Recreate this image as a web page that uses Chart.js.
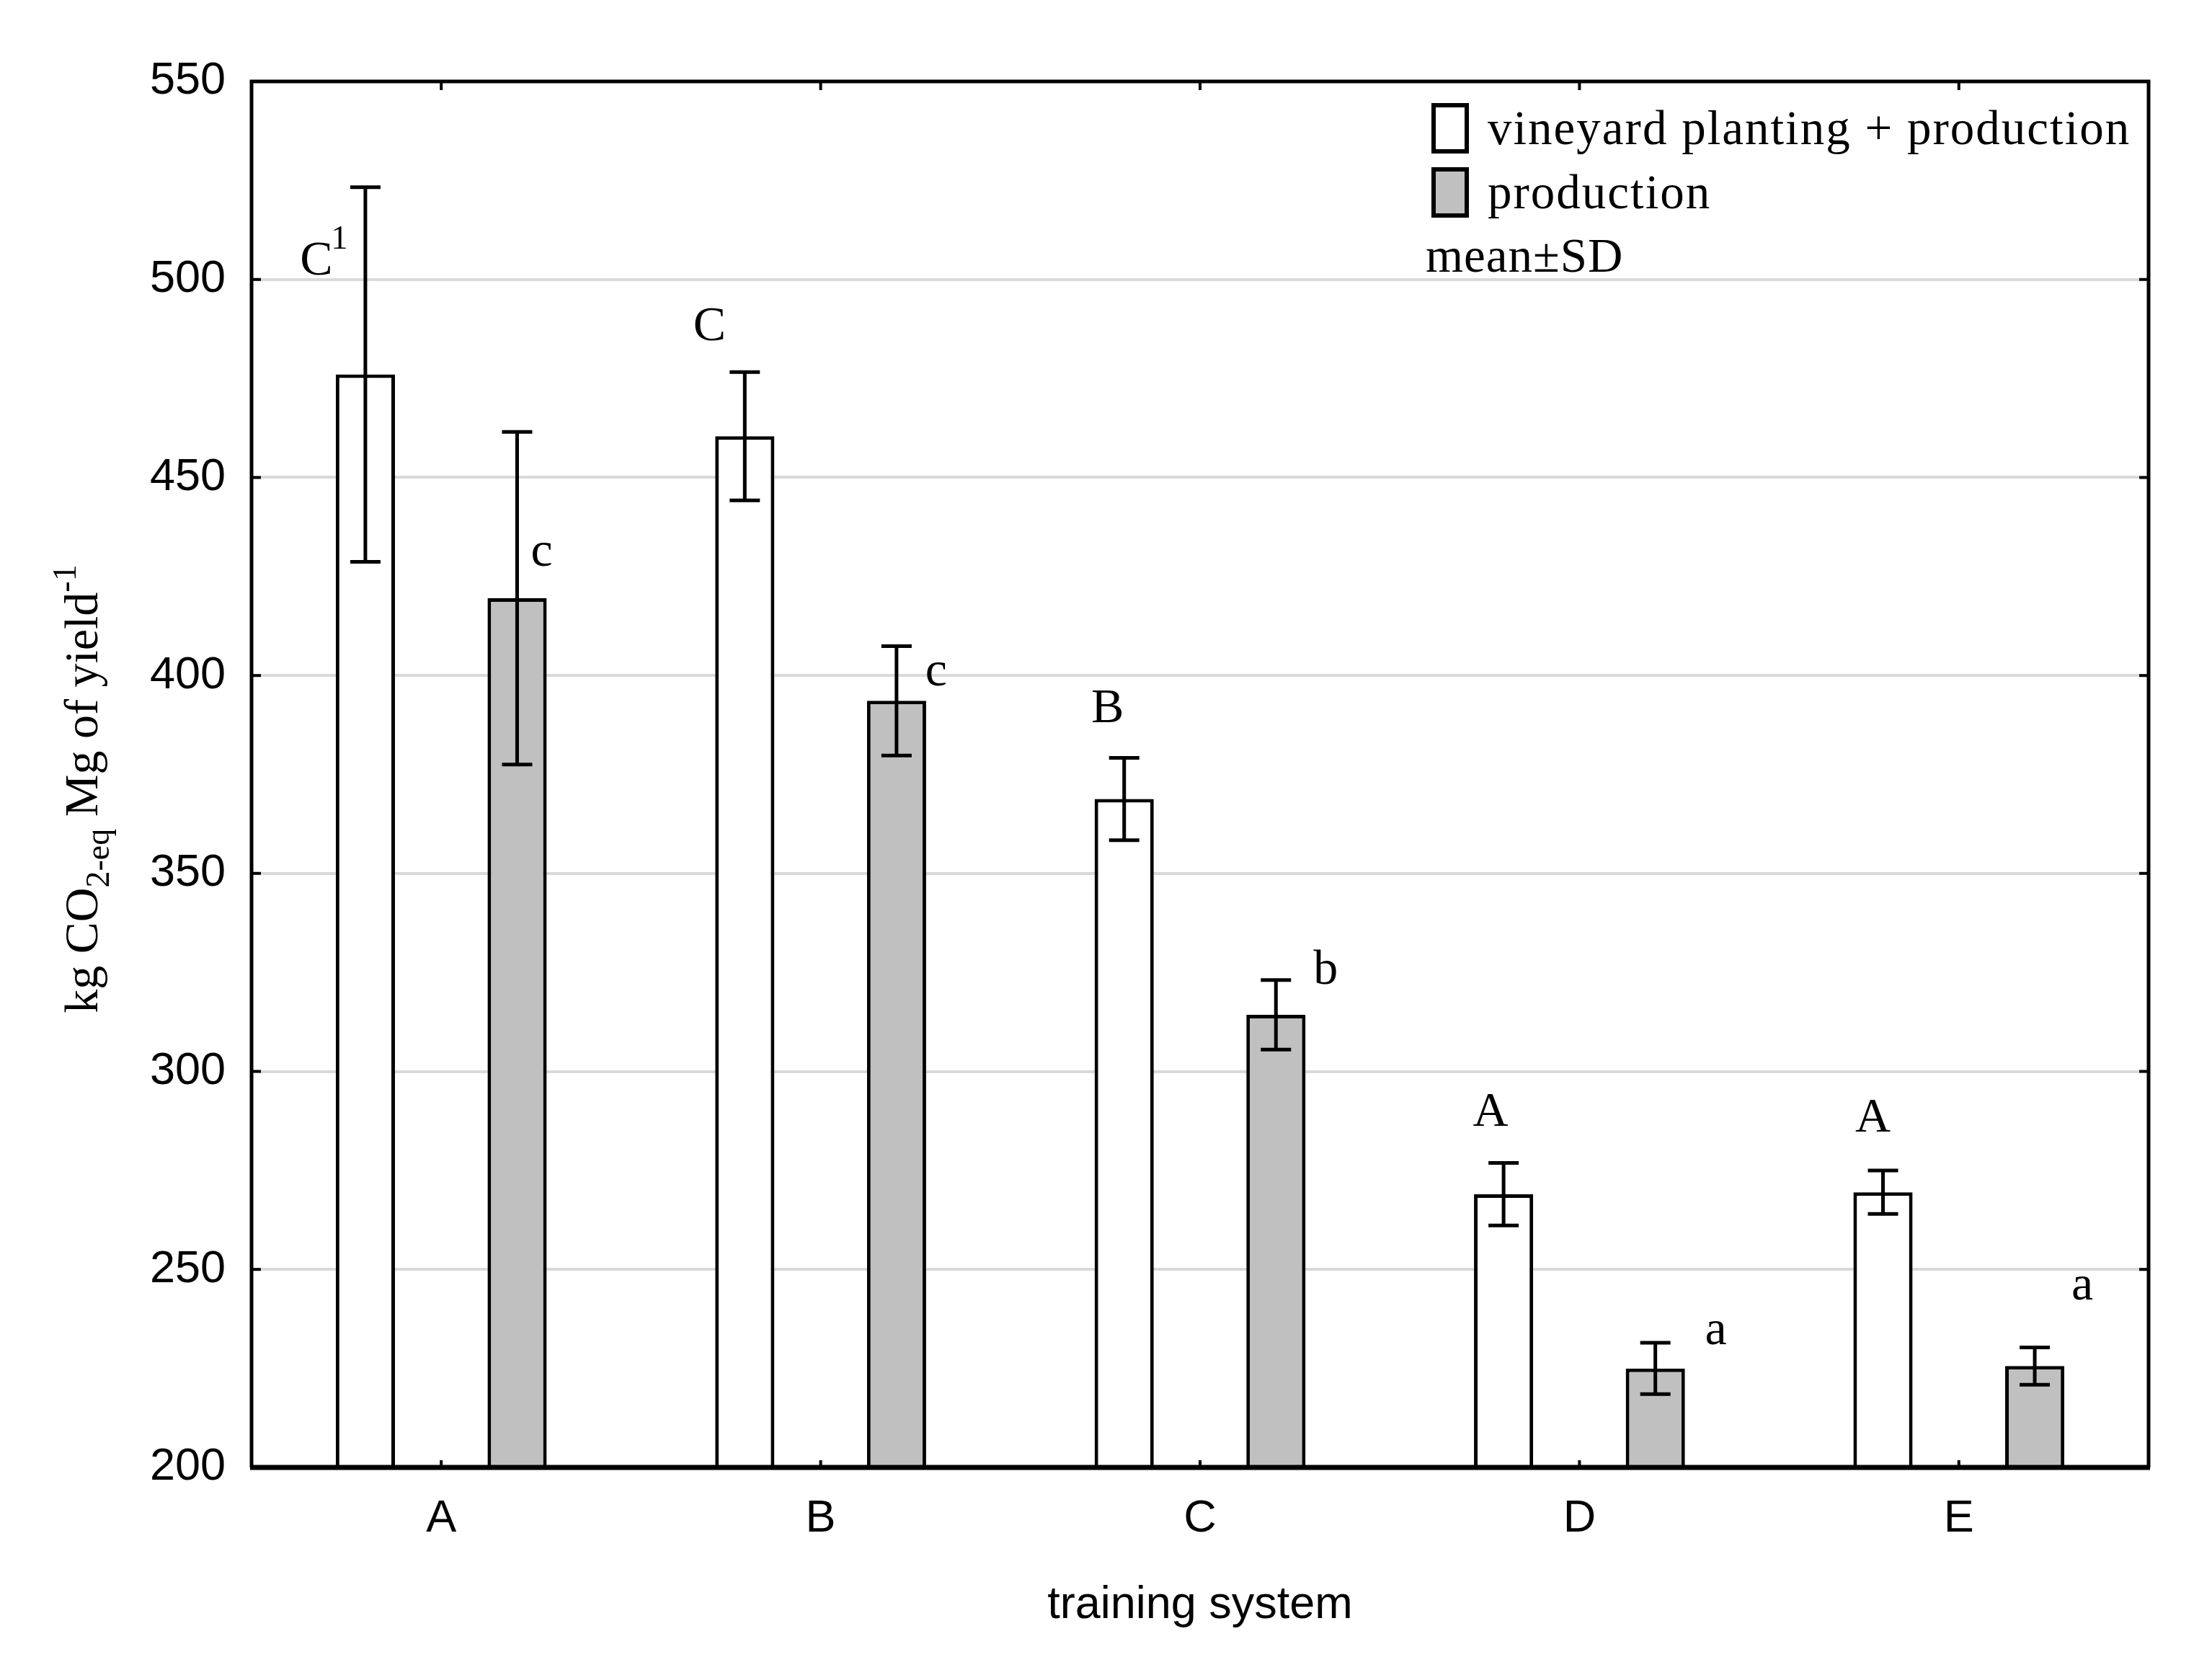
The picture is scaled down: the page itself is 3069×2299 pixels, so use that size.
<!DOCTYPE html>
<html><head><meta charset="utf-8">
<script src="https://cdn.jsdelivr.net/npm/chart.js@4"></script>
<style>html,body{margin:0;padding:0;background:#fff}canvas{display:block}</style>
</head><body>
<canvas id="c" width="3069" height="2299"></canvas>
<script>
// ---- data ----
const categories = ['A', 'B', 'C', 'D', 'E'];
const seriesLabels = ['vineyard planting + production', 'production'];
const plantingMean = [476, 460.4, 368.8, 269, 269.5];
const plantingSD = [47.3, 16.2, 10.4, 7.9, 5.5];
const productionMean = [419.5, 393.6, 314.3, 225, 225.6];
const productionSD = [42, 13.8, 8.8, 6.5, 4.7];
const plantingLetters = ['C', 'C', 'B', 'A', 'A'];
const plantingLetterSup = ['1', '', '', '', ''];
const productionLetters = ['c', 'c', 'b', 'a', 'a'];
const yTicks = [200, 250, 300, 350, 400, 450, 500, 550];
const xTitle = 'training system';
const statNote = 'mean\u00b1SD';

// ---- style / placement ----
const SERIF = '"Liberation Serif", "DejaVu Serif", serif';
const SANS = '"Liberation Sans", Arial, sans-serif';
const fills = ['#ffffff', '#c0c0c0'];
// letter placement: horizontal offset (px) from bar centre, vertical position in axis units
const letterPlace = [
  { dx: [-68, -49, -23, -18, -14], y: [504.5, 487.9, 391.4, 289.5, 288] },
  { dx: [34, 55, 69, 84, 66], y: [431, 400.7, 325.4, 234.4, 245.7] }
];

const decor = {
  id: 'decor',
  afterDatasetsDraw(chart) {
    const { ctx, chartArea: a, scales: { x, y } } = chart;
    ctx.save();
    ctx.strokeStyle = '#000';
    ctx.lineCap = 'butt';
    // error bars
    const sets = [[plantingMean, plantingSD], [productionMean, productionSD]];
    sets.forEach(([m, s], di) => {
      chart.getDatasetMeta(di).data.forEach((bar, i) => {
        const px = bar.x;
        const yt = y.getPixelForValue(m[i] + s[i]);
        const yb = y.getPixelForValue(m[i] - s[i]);
        ctx.lineWidth = 5;
        ctx.beginPath();
        ctx.moveTo(px, yt); ctx.lineTo(px, yb);
        ctx.moveTo(px - 21, yt); ctx.lineTo(px + 21, yt);
        ctx.moveTo(px - 21, yb); ctx.lineTo(px + 21, yb);
        ctx.stroke();
      });
    });
    // frame
    ctx.lineWidth = 5;
    ctx.beginPath();
    ctx.moveTo(a.left, a.bottom); ctx.lineTo(a.left, a.top); ctx.lineTo(a.right, a.top); ctx.lineTo(a.right, a.bottom);
    ctx.stroke();
    ctx.lineWidth = 7;
    ctx.beginPath();
    ctx.moveTo(a.left - 2, a.bottom); ctx.lineTo(a.right + 2, a.bottom);
    ctx.stroke();
    // inward ticks
    ctx.lineWidth = 4;
    ctx.beginPath();
    y.ticks.forEach(t => {
      const py = y.getPixelForValue(t.value);
      ctx.moveTo(a.left, py); ctx.lineTo(a.left + 13, py);
      ctx.moveTo(a.right, py); ctx.lineTo(a.right - 13, py);
    });
    x.ticks.forEach((t, i) => {
      const px = x.getPixelForTick(i);
      ctx.moveTo(px, a.bottom); ctx.lineTo(px, a.bottom - 10);
      ctx.moveTo(px, a.top); ctx.lineTo(px, a.top + 12);
    });
    ctx.stroke();
    // significance letters
    ctx.fillStyle = '#000';
    ctx.textBaseline = 'middle';
    const letters = [[plantingLetters, plantingLetterSup], [productionLetters, null]];
    letters.forEach(([L, S], di) => {
      chart.getDatasetMeta(di).data.forEach((bar, i) => {
        const cx = bar.x + letterPlace[di].dx[i];
        const cy = y.getPixelForValue(letterPlace[di].y[i]);
        ctx.font = '68px ' + SERIF;
        ctx.textAlign = 'center';
        ctx.fillText(L[i], cx, cy);
        if (S && S[i]) {
          const w = ctx.measureText(L[i]).width;
          ctx.font = '46px ' + SERIF;
          ctx.textAlign = 'left';
          ctx.fillText(S[i], cx + w / 2 - 2, cy - 30);
        }
      });
    });
    ctx.restore();
  },
  afterDraw(chart) {
    const { ctx, chartArea: a } = chart;
    ctx.save();
    ctx.fillStyle = '#000';
    ctx.strokeStyle = '#000';
    // legend
    const ds = chart.data.datasets;
    const bx = a.right - 995, by0 = a.top + 30;
    ds.forEach((d, i) => {
      const by = by0 + i * 89;
      ctx.fillStyle = d.backgroundColor;
      ctx.fillRect(bx, by, 52, 70);
      ctx.lineWidth = 6;
      ctx.strokeRect(bx + 3, by + 3, 46, 64);
      ctx.fillStyle = '#000';
      ctx.font = '67px ' + SERIF;
      ctx.letterSpacing = '2px';
      ctx.textAlign = 'left';
      ctx.textBaseline = 'alphabetic';
      ctx.fillText(d.label, bx + 78, by + 57);
    });
    ctx.font = '67px ' + SERIF;
    ctx.letterSpacing = '1px';
    ctx.fillText(statNote, bx - 8, by0 + 234);
    ctx.letterSpacing = '0px';
    // y-axis title with sub/superscript
    const segs = [
      { t: 'kg CO', s: 66, dy: 0 },
      { t: '2-eq', s: 46, dy: 16 },
      { t: ' Mg of yield', s: 66, dy: 0 },
      { t: '-1', s: 46, dy: -30 }
    ];
    let total = 0;
    segs.forEach(g => { ctx.font = g.s + 'px ' + SERIF; g.w = ctx.measureText(g.t).width; total += g.w; });
    ctx.translate(135, (a.top + a.bottom) / 2 + 20);
    ctx.rotate(-Math.PI / 2);
    ctx.textAlign = 'left';
    ctx.textBaseline = 'alphabetic';
    let xx = -total / 2;
    segs.forEach(g => { ctx.font = g.s + 'px ' + SERIF; ctx.fillText(g.t, xx, g.dy); xx += g.w; });
    ctx.restore();
  }
};

Chart.defaults.color = '#000';
new Chart(document.getElementById('c'), {
  type: 'bar',
  data: {
    labels: categories,
    datasets: [
      { label: seriesLabels[0], data: plantingMean, backgroundColor: fills[0], borderColor: '#000', borderWidth: 5, borderSkipped: 'start' },
      { label: seriesLabels[1], data: productionMean, backgroundColor: fills[1], borderColor: '#000', borderWidth: 5, borderSkipped: 'start' }
    ]
  },
  options: {
    responsive: false,
    devicePixelRatio: 1,
    animation: false,
    events: [],
    categoryPercentage: 0.8,
    barPercentage: 0.39,
    layout: { padding: { top: 113, right: 88, left: 0, bottom: 0 } },
    plugins: { legend: { display: false }, tooltip: { enabled: false } },
    scales: {
      x: {
        grid: { display: false, drawTicks: false },
        border: { display: false },
        ticks: { font: { family: SANS, size: 63 }, padding: 34, color: '#000' },
        title: { display: true, text: xTitle, font: { family: SANS, size: 63 }, padding: { top: 0, bottom: 34 }, color: '#000' },
        afterFit(s) { s.height = 2299 - 2036; }
      },
      y: {
        min: yTicks[0],
        max: yTicks[yTicks.length - 1],
        afterBuildTicks(s) { s.ticks = yTicks.map(v => ({ value: v })); },
        grid: { color: '#d9d9d9', lineWidth: 4, drawTicks: false },
        border: { display: false },
        ticks: { font: { family: SANS, size: 63 }, padding: 36, color: '#000' },
        afterFit(s) { s.width = 349; }
      }
    }
  },
  plugins: [decor]
});
</script>
</body></html>
